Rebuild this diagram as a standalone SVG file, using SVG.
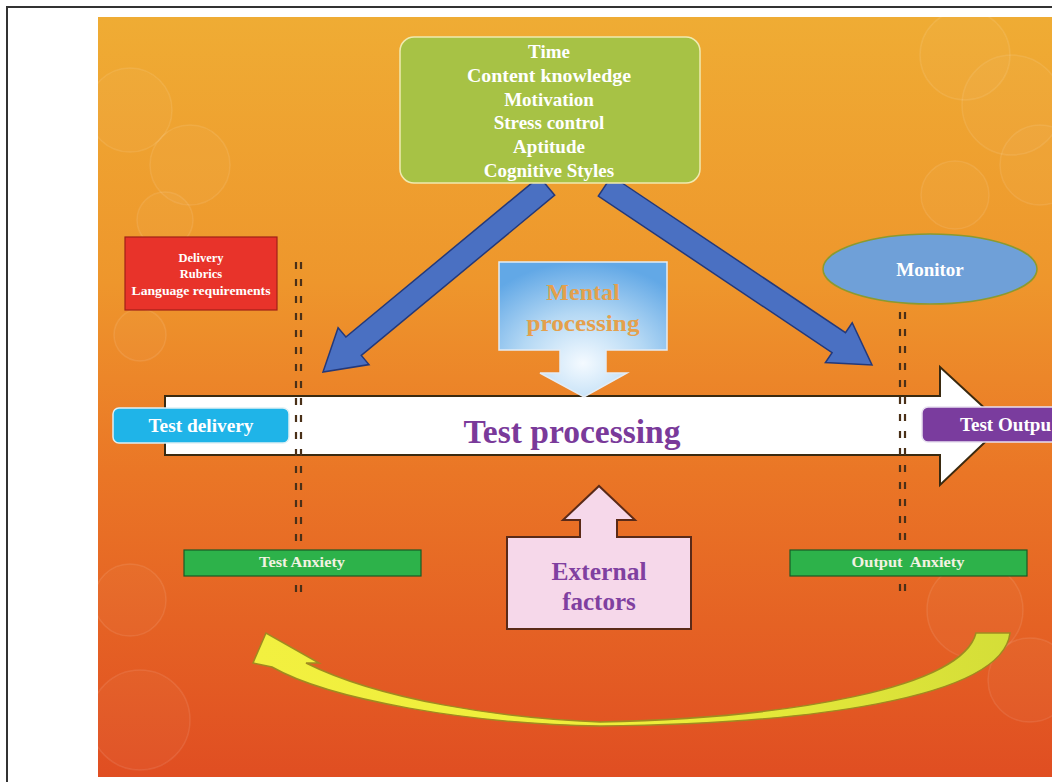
<svg xmlns="http://www.w3.org/2000/svg" width="1052" height="782" viewBox="0 0 1052 782">
<style>
.b{font-family:"Liberation Serif","Times New Roman",serif;font-weight:bold;text-anchor:middle}
.w{fill:#ffffff}
.dash{stroke:#4a3018;stroke-width:2.2;stroke-dasharray:7 10;fill:none}
.bok{fill:#ffffff;fill-opacity:0.03;stroke:#ffffff;stroke-opacity:0.09;stroke-width:1.5}
.blue{fill:#4a70c2;stroke:#24397a;stroke-width:1.5}
.anx{fill:#2db24a;stroke:#1a5a26;stroke-width:1.2}
</style>
<defs>
<linearGradient id="bg" x1="0" y1="0" x2="0" y2="1">
<stop offset="0" stop-color="#efac34"/>
<stop offset="0.35" stop-color="#ee962c"/>
<stop offset="0.6" stop-color="#ea7626"/>
<stop offset="1" stop-color="#e04e22"/>
</linearGradient>
<radialGradient id="mp" cx="0.5" cy="0.75" r="0.75">
<stop offset="0" stop-color="#f4faff"/>
<stop offset="0.5" stop-color="#b4d8f4"/>
<stop offset="1" stop-color="#62a8e6"/>
</radialGradient>
<linearGradient id="yel" x1="0" y1="0" x2="1" y2="0">
<stop offset="0" stop-color="#f2f040"/>
<stop offset="0.5" stop-color="#eeee3a"/>
<stop offset="1" stop-color="#d4de38"/>
</linearGradient>
</defs>
<rect x="0" y="0" width="1052" height="782" fill="#ffffff"/>
<path d="M7 782 L7 7 L1052 7" fill="none" stroke="#333333" stroke-width="2"/>
<rect x="98" y="17" width="954" height="760" fill="url(#bg)"/>
<g id="bokeh">
<circle class="bok" cx="130" cy="110" r="42"/>
<circle class="bok" cx="190" cy="165" r="40"/>
<circle class="bok" cx="165" cy="220" r="28"/>
<circle class="bok" cx="140" cy="335" r="26"/>
<circle class="bok" cx="965" cy="55" r="45"/>
<circle class="bok" cx="1012" cy="105" r="50"/>
<circle class="bok" cx="955" cy="195" r="34"/>
<circle class="bok" cx="1040" cy="165" r="40"/>
<circle class="bok" cx="130" cy="600" r="36"/>
<circle class="bok" cx="975" cy="610" r="48"/>
<circle class="bok" cx="1030" cy="680" r="42"/>
<circle class="bok" cx="140" cy="720" r="50"/>
</g>
<g id="test-processing">
<polygon points="165,396 940,396 940,367 1003,425 940,485 940,455 165,455" fill="#ffffff" stroke="#3a2a10" stroke-width="2"/>
<text class="b" x="572" y="443" font-size="33.5" fill="#7a3a9a">Test processing</text>
</g>
<g id="connectors">
<polygon class="blue" points="539.3,176.8 345.9,337 338.1,327.8 323,372 369,364.6 361.3,355.4 554.7,195.2"/>
<polygon class="blue" points="611.7,176 845.5,332.7 852.2,322.8 872,365 825.4,362.6 832.1,352.7 598.3,196"/>
<line class="dash" x1="296" y1="262" x2="296" y2="592"/>
<line class="dash" x1="301" y1="262" x2="301" y2="592"/>
<line class="dash" x1="900" y1="312" x2="900" y2="592"/>
<line class="dash" x1="905" y1="312" x2="905" y2="592"/>
<path d="M1010 633 C1002 700 800 724 600 726 C470 724 330 700 272 667 L253 663 L266 633 L319 663 L306 663 C380 700 500 718 600 722 C790 718 962 688 976 633 Z" fill="url(#yel)" stroke="#a08a20" stroke-width="1.5"/>
</g>
<g id="factors">
<rect x="400" y="37" width="300" height="146" rx="14" fill="#a7c245" stroke="#f0eab0" stroke-width="1.5"/>
<g class="b w" font-size="19">
<text x="549" y="58">Time</text>
<text x="549" y="82" textLength="164" lengthAdjust="spacingAndGlyphs">Content knowledge</text>
<text x="549" y="106">Motivation</text>
<text x="549" y="129">Stress control</text>
<text x="549" y="153">Aptitude</text>
<text x="549" y="177">Cognitive Styles</text>
</g>
</g>
<g id="delivery-factors">
<rect x="125" y="237" width="152" height="73" fill="#e8332a" stroke="#a02018" stroke-width="1.2"/>
<g class="b w" font-size="12.5">
<text x="201" y="262">Delivery</text>
<text x="201" y="278">Rubrics</text>
<text x="201" y="295" textLength="139" lengthAdjust="spacingAndGlyphs">Language requirements</text>
</g>
</g>
<g id="monitor">
<ellipse cx="930" cy="269" rx="107" ry="35" fill="#6fa0d8" stroke="#8a9a30" stroke-width="1.5"/>
<text class="b w" x="930" y="276" font-size="19">Monitor</text>
</g>
<g id="mental-processing">
<path d="M499 262 H667 V350 H606 V373 H627 L584 397 L540 373 H560 V350 H499 Z" fill="url(#mp)" stroke="#e4ecf4" stroke-width="1.5"/>
<text class="b" x="583" y="300" font-size="24" fill="#e4a04c">Mental</text>
<text class="b" x="583" y="331" font-size="24" fill="#e4a04c" textLength="113" lengthAdjust="spacingAndGlyphs">processing</text>
</g>
<g id="test-delivery">
<rect x="113" y="408" width="176" height="35" rx="6" fill="#1fb4e8" stroke="#e0f0f4" stroke-width="1.5"/>
<text class="b w" x="201" y="432" font-size="18.5" textLength="105" lengthAdjust="spacingAndGlyphs">Test delivery</text>
</g>
<g id="test-output">
<rect x="922" y="407" width="140" height="35" rx="6" fill="#7a3c9e" stroke="#e8e0f0" stroke-width="1.5"/>
<text class="b w" x="960" y="431" font-size="18.5" style="text-anchor:start" textLength="91" lengthAdjust="spacingAndGlyphs">Test Outpu</text>
</g>
<g id="external-factors">
<path d="M507 537 H580 V520 H563 L599 486 L635 520 H617 V537 H691 V629 H507 Z" fill="#f6d8ea" stroke="#5a2a18" stroke-width="2"/>
<text class="b" x="599" y="580" font-size="25" fill="#8040a0" textLength="95" lengthAdjust="spacingAndGlyphs">External</text>
<text class="b" x="599" y="610" font-size="25" fill="#8040a0">factors</text>
</g>
<g id="test-anxiety">
<rect class="anx" x="184" y="550" width="237" height="26"/>
<text class="b" x="302" y="567" font-size="14" fill="#f2f2e2" textLength="86" lengthAdjust="spacingAndGlyphs">Test Anxiety</text>
</g>
<g id="output-anxiety">
<rect class="anx" x="790" y="550" width="237" height="26"/>
<text class="b" x="908" y="567" font-size="14" fill="#f2f2e2" xml:space="preserve" textLength="113" lengthAdjust="spacingAndGlyphs">Output  Anxiety</text>
</g>
</svg>
